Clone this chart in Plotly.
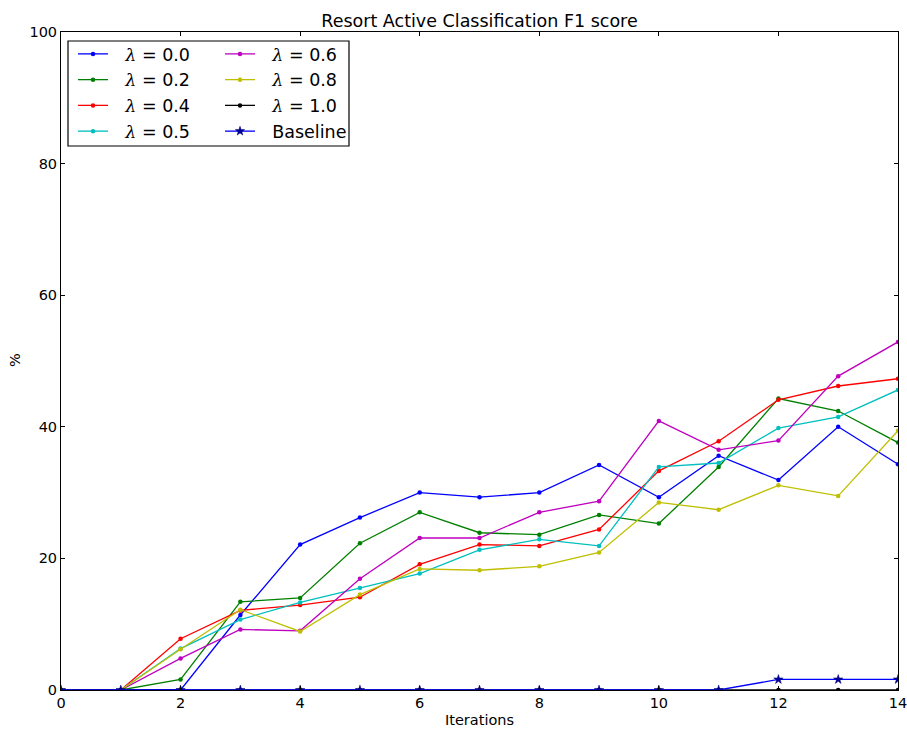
import plotly.graph_objects as go

# Active-learning iterations and F1 scores (%) per lambda setting
iterations = list(range(0, 15))

f1_lam_00 = [0, 0, 0.0, 11.4, 22.1, 26.2, 30.0, 29.3, 30.0, 34.2, 29.3, 35.6, 31.9, 40.0, 34.3]
f1_lam_02 = [0, 0, 1.6, 13.4, 14.0, 22.3, 27.0, 23.9, 23.6, 26.6, 25.3, 33.9, 44.3, 42.4, 37.6]
f1_lam_04 = [0, 0, 7.8, 12.1, 12.9, 14.1, 19.1, 22.1, 21.9, 24.4, 33.3, 37.8, 44.1, 46.2, 47.3]
f1_lam_05 = [0, 0, 6.3, 10.7, 13.3, 15.5, 17.7, 21.3, 22.9, 21.9, 33.9, 34.5, 39.8, 41.5, 45.6]
f1_lam_06 = [0, 0, 4.8, 9.2, 9.0, 16.9, 23.1, 23.1, 27.0, 28.7, 40.9, 36.5, 37.9, 47.7, 52.9]
f1_lam_08 = [0, 0, 6.2, 12.2, 8.9, 14.5, 18.4, 18.2, 18.8, 20.9, 28.5, 27.4, 31.1, 29.5, 39.4]
f1_lam_10 = [0, 0, 0, 0, 0, 0, 0, 0, 0, 0, 0, 0, 0, 0, 0]
f1_baseline = [0, 0, 0, 0, 0, 0, 0, 0, 0, 0, 0, 0, 1.6, 1.6, 1.6]

x_ticks = [0, 2, 4, 6, 8, 10, 12, 14]
y_ticks = [0, 20, 40, 60, 80, 100]

LAM = '<span style="font-family:DejaVu Serif"><i>λ</i></span>'
PAD = "\u2002\u2009"

series = [
    (f"{LAM} = 0.0", f1_lam_00, "#0000ff", "legend"),
    (f"{LAM} = 0.2", f1_lam_02, "#008000", "legend"),
    (f"{LAM} = 0.4", f1_lam_04, "#ff0000", "legend"),
    (f"{LAM} = 0.5", f1_lam_05, "#00bfbf", "legend"),
    (f"{LAM} = 0.6", f1_lam_06, "#bf00bf", "legend2"),
    (f"{LAM} = 0.8", f1_lam_08, "#bfbf00", "legend2"),
    (f"{LAM} = 1.0", f1_lam_10, "#000000", "legend2"),
]

fig = go.Figure()
for i, (name, vals, color, leg) in enumerate(series):
    fig.add_trace(go.Scatter(
        x=iterations, y=vals, name=PAD + name, mode="lines+markers",
        line=dict(color=color, width=1.3),
        marker=dict(color=color, size=4.5, symbol="circle"),
        legend=leg, legendgroup=f"g{i}", cliponaxis=True,
    ))

fig.add_trace(go.Scatter(
    x=iterations, y=f1_baseline, name=PAD + "Baseline", mode="lines+markers",
    line=dict(color="#0000ff", width=1.3),
    marker=dict(color="#0000a0", size=7, symbol="star",
                line=dict(color="#000060", width=0.5)),
    legend="legend2", legendgroup="gb", cliponaxis=True,
))

font_main = "DejaVu Sans"
leg_common = dict(
    bgcolor="rgba(0,0,0,0)", borderwidth=0,
    font=dict(family=font_main, size=17.5, color="#000000"),
    tracegroupgap=2.0, xanchor="left", yanchor="top",
    traceorder="normal", itemwidth=30,
)

fig.update_layout(
    width=907, height=729,
    margin=dict(l=61, r=9, t=32, b=39, autoexpand=False),
    paper_bgcolor="white", plot_bgcolor="white",
    font=dict(family=font_main, size=14.5, color="#000000"),
    title=dict(text="Resort Active Classification F1 score",
               font=dict(family=font_main, size=17.5, color="#000000"),
               x=0.5, xref="paper", xanchor="center",
               y=1 - 20.5 / 729, yref="container", yanchor="middle"),
    xaxis=dict(range=[0, 14], tickvals=x_ticks, ticks="inside", ticklen=4,
               tickcolor="black", showline=True, linecolor="black",
               linewidth=1, mirror="ticks", showgrid=False, zeroline=False,
               automargin=False, ticklabeloverflow="allow",
               title=dict(text="Iterations", standoff=4,
                          font=dict(family=font_main, size=14.5))),
    yaxis=dict(range=[0, 100], tickvals=y_ticks, ticks="inside", ticklen=4,
               tickcolor="black", showline=True, linecolor="black",
               linewidth=1, mirror="ticks", showgrid=False, zeroline=False,
               automargin=False, ticklabeloverflow="allow"),
    annotations=[dict(text="%", xref="paper", yref="paper",
                      x=(15 - 61) / 837, y=(690 - 360) / 658,
                      xanchor="center", yanchor="middle", textangle=-90,
                      showarrow=False,
                      font=dict(family=font_main, size=14.5, color="#000000"))],
    legend=dict(x=(73 - 61) / 837, y=1 - (36 - 32) / 658, **leg_common),
    legend2=dict(x=(220 - 61) / 837, y=1 - (36 - 32) / 658, **leg_common),
    shapes=[dict(type="rect", xref="paper", yref="paper",
                 x0=(68 - 61) / 837, x1=(349 - 61) / 837,
                 y0=1 - (146 - 32) / 658, y1=1 - (41 - 32) / 658,
                 line=dict(color="black", width=1.2),
                 fillcolor="white", layer="above")],
)

fig.write_html("out.html")
